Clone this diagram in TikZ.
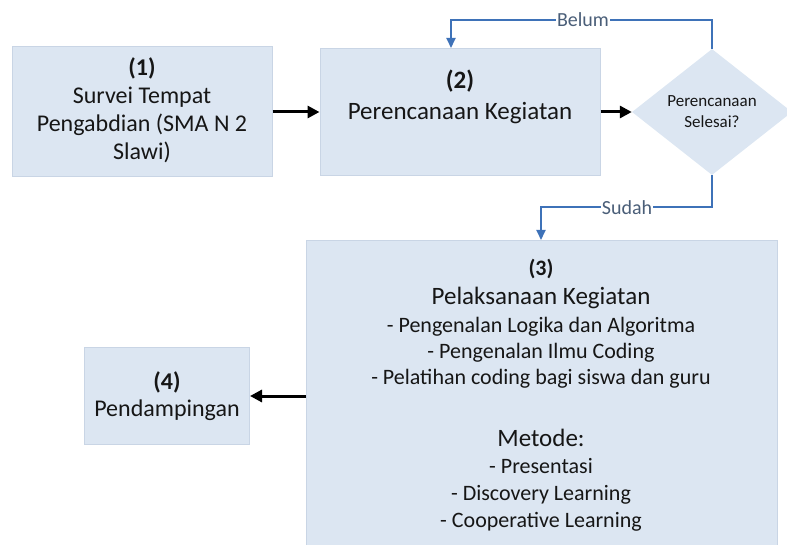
\documentclass[tikz,border=0pt]{standalone}
\usepackage{fontspec}
\setmainfont{Carlito}
\usetikzlibrary{shapes.geometric,arrows.meta}
\definecolor{boxfill}{HTML}{DCE6F2}
\definecolor{boxline}{HTML}{C9D5E5}
\definecolor{flowblue}{HTML}{3E72B8}
\definecolor{txt}{HTML}{161616}
\definecolor{lbl}{HTML}{4A5E78}
\tikzset{
  stepbox/.style={draw=boxline, line width=1pt, fill=boxfill, minimum width=#1},
  flow/.style={-{Triangle[length=12pt,width=12pt]}, line width=3pt, black},
  loop/.style={-{Triangle[length=10pt,width=9pt]}, line width=1.8pt, flowblue},
  looplbl/.style={fill=white, inner sep=1pt, text=lbl, font=\fontsize{20}{20}\selectfont},
}
\begin{document}
\begin{tikzpicture}[x=1pt,y=-1pt]
\useasboundingbox (0,0) rectangle (787,545);
% boxes
\node[stepbox=260pt, minimum height=130pt] (b1) at (142,112) {};
\node[stepbox=280pt, minimum height=127pt] (b2) at (460,112) {};
\node[diamond, fill=boxfill, minimum width=160pt, minimum height=126pt, inner sep=0pt, aspect=1.27] (d) at (712,112) {};
\node[stepbox=471pt, minimum height=320pt, anchor=north west] (b3) at (306,240) {};
\node[stepbox=165pt, minimum height=97pt] (b4) at (167,396) {};
% texts
\node[align=center, text=txt, font=\fontsize{24}{28}\selectfont] (t1) at (142,110) {\textbf{(1)}\\Survei Tempat\\Pengabdian (SMA N 2\\Slawi)};
\node[align=center, text=txt, font=\fontsize{25}{31}\selectfont] (t2) at (460,97) {\textbf{(2)}\\Perencanaan Kegiatan};
\node[align=center, text=txt, font=\fontsize{17}{21}\selectfont] (td) at (712,112) {Perencanaan\\Selesai?};
\node[align=center, text=txt, font=\fontsize{24}{27}\selectfont] (t4) at (167,396) {\textbf{(4)}\\Pendampingan};
\node[align=center, text=txt, anchor=north, font=\fontsize{22}{26}\selectfont] (t3) at (541,256)
 {{\fontsize{22}{22}\selectfont\textbf{(3)}}\\[3pt]
  {\fontsize{25}{25}\selectfont Pelaksanaan Kegiatan}\\[2pt]
  - Pengenalan Logika dan Algoritma\\
  - Pengenalan Ilmu Coding\\
  - Pelatihan coding bagi siswa dan guru\\[36pt]
  {\fontsize{25}{25}\selectfont Metode:}\\[1pt]
  - Presentasi\\[1pt]
  - Discovery Learning\\[1pt]
  - Cooperative Learning};
% connectors
\draw[flow] (b1.east) -- (b2.west);
\draw[flow] (b2.east) -- (d.west);
\draw[flow] (b3.west |- b4.east) -- (b4.east);
\coordinate (c1) at (712,20);
\coordinate (c2) at (451,20);
\draw[loop] (d.north) -- (c1) -- (c2) -- (c2 |- b2.north);
\node[looplbl] (lb) at (583,20) {Belum};
\coordinate (c3) at (712,207);
\coordinate (c4) at (541,207);
\draw[loop] (d.south) -- (c3) -- (c4) -- (c4 |- b3.north);
\node[looplbl] (ls) at (627,208) {Sudah};
\end{tikzpicture}
\end{document}
